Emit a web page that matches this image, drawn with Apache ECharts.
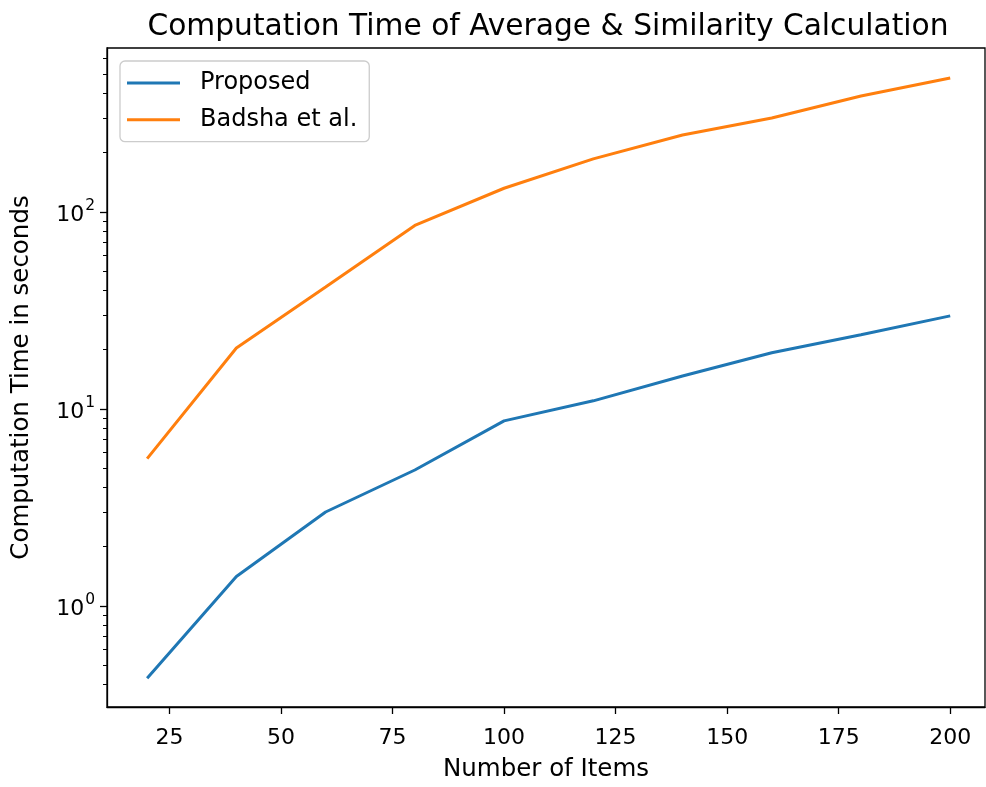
<!DOCTYPE html>
<html>
<head>
<meta charset="utf-8">
<script src="https://cdn.jsdelivr.net/npm/echarts@6/dist/echarts.min.js"></script>
<style>html,body{margin:0;padding:0;background:#fff}#c{width:986px;height:787px}</style>
</head>
<body>
<div id="c"></div>
<script>
const items = [20, 40, 60, 80, 100, 120, 140, 160, 180, 200];
const proposed = [0.43, 1.41, 3.0, 4.9, 8.7, 11.0, 14.7, 19.3, 23.8, 29.7];
const badsha = [5.6, 20.4, 41.6, 85.5, 132, 186, 246, 300, 388, 479];
const xTicks = [25, 50, 75, 100, 125, 150, 175, 200];
const yMajor = [1, 10, 100];
const yMinor = [0.4, 0.5, 0.6, 0.7, 0.8, 0.9, 2, 3, 4, 5, 6, 7, 8, 9, 20, 30, 40, 50, 60, 70, 80, 90, 200, 300, 400, 500, 600];

const FONT = 'DejaVu Sans';
const chart = echarts.init(document.getElementById('c'), null, {renderer: 'canvas'});
const toPairs = (xs, ys) => xs.map((x, i) => [x, ys[i]]);

chart.setOption({
  animation: false,
  backgroundColor: '#ffffff',
  textStyle: {fontFamily: FONT},
  title: {
    text: 'Computation Time of Average & Similarity Calculation',
    left: 543, textAlign: 'center', top: 7,
    textStyle: {fontFamily: FONT, fontSize: 29.7, fontWeight: 'normal', color: '#000'}
  },
  legend: {
    orient: 'vertical', left: 120, top: 61,
    padding: [9, 12, 9, 7],
    icon: 'rect',
    itemWidth: 53, itemHeight: 3, itemGap: 10.7,
    borderColor: '#cccccc', borderWidth: 1.3, borderRadius: 5,
    backgroundColor: 'rgba(255,255,255,0.8)',
    textStyle: {fontFamily: FONT, fontSize: 24, color: '#000', lineHeight: 26, padding: [0, 0, 0, 15]},
    data: ['Proposed', 'Badsha et al.']
  },
  grid: {
    left: 107, top: 48, right: 1, bottom: 80,
    show: true, borderColor: '#000', borderWidth: 1.3, backgroundColor: 'transparent',
    containLabel: false
  },
  xAxis: {
    type: 'value', min: 11, max: 207.8,
    name: 'Number of Items', nameLocation: 'middle', nameGap: 50,
    nameTextStyle: {fontFamily: FONT, fontSize: 24.5, color: '#000'},
    axisLine: {show: true, lineStyle: {color: '#000', width: 1.3}},
    axisTick: {show: true, length: 7, lineStyle: {color: '#000', width: 1.3}, customValues: xTicks},
    axisLabel: {fontFamily: FONT, fontSize: 22, color: '#000', margin: 20, customValues: xTicks},
    splitLine: {show: false}
  },
  yAxis: [{
    type: 'log', logBase: 10, min: 0.307, max: 680,
    name: 'Computation Time in seconds', nameLocation: 'middle', nameGap: 73,
    nameTextStyle: {fontFamily: FONT, fontSize: 24.5, color: '#000'},
    axisLine: {show: true, lineStyle: {color: '#000', width: 1.3}},
    axisTick: {show: true, length: 7, lineStyle: {color: '#000', width: 1.3}, customValues: yMajor},
    axisLabel: {
      customValues: yMajor, margin: 12, color: '#000',
      formatter: v => '{b|10}{s|' + Math.round(Math.log10(v)) + '}',
      rich: {
        b: {fontFamily: FONT, fontSize: 22, color: '#000', padding: [7, 0, 0, 0], verticalAlign: 'bottom'},
        s: {fontFamily: FONT, fontSize: 15.5, color: '#000', verticalAlign: 'top', padding: [0, 0, 0, 1]}
      }
    },
    splitLine: {show: false}
  }, {
    type: 'log', logBase: 10, min: 0.307, max: 680, position: 'left', offset: 0,
    axisLine: {show: false},
    axisTick: {show: true, length: 4, lineStyle: {color: '#000', width: 1}, customValues: yMinor},
    axisLabel: {show: false},
    splitLine: {show: false}
  }],
  series: [{
    name: 'Proposed', type: 'line', data: toPairs(items, proposed),
    symbol: 'none', color: '#1f77b4', lineStyle: {width: 3, color: '#1f77b4'}
  }, {
    name: 'Badsha et al.', type: 'line', data: toPairs(items, badsha),
    symbol: 'none', color: '#ff7f0e', lineStyle: {width: 3, color: '#ff7f0e'}
  }]
});
</script>
</body>
</html>
